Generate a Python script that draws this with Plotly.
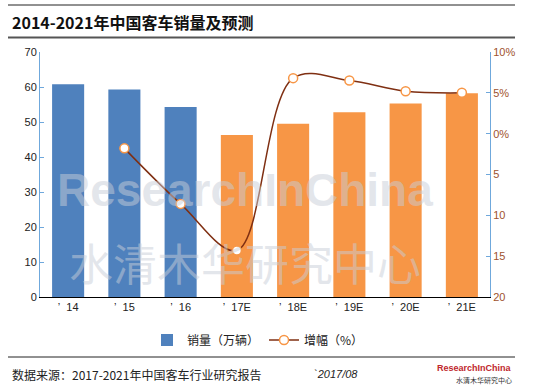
import plotly.graph_objects as go

categories = ["’\u00a0 14", "’\u00a0 15", "’\u00a0 16", "’\u00a0 17E", "’\u00a0 18E", "’\u00a0 19E", "’\u00a0 20E", "’\u00a0 21E"]
sales = [60.8, 59.3, 54.3, 46.3, 49.5, 52.8, 55.3, 58.2]
growth_cats = categories[1:]
growth = [-1.8, -8.6, -14.3, 6.8, 6.5, 5.2, 5.0]
bar_colors = ["#4F81BD"] * 3 + ["#F79646"] * 5
right_vals = [10, 5, 0, -5, -10, -15, -20]
right_text = ["10%", "5%", "0%", "5", "10", "15", "20"]

CJK = "Noto Sans CJK SC"
LAT = "Liberation Sans, Arial, sans-serif"

fig = go.Figure()
fig.add_trace(go.Bar(
    x=categories, y=sales, name="销量（万辆）",
    marker=dict(color=bar_colors, line=dict(width=0)),
))
fig.add_trace(go.Scatter(
    x=growth_cats, y=growth, name="增幅（%）", yaxis="y2",
    mode="lines+markers",
    line=dict(color="#7F2F12", width=1.5, shape="spline", smoothing=1.0),
    marker=dict(size=9, color="white", line=dict(color="#F79646", width=1.5)),
))

# paper coordinate helpers (plot area: x 40..490 px, y 52..297 px)
def px_x(p):
    return (p - 40) / 450.0

def px_y(p):
    return (297 - p) / 245.0

shapes = [
    dict(type="line", xref="paper", yref="paper", x0=px_x(8), x1=px_x(515),
         y0=px_y(5), y1=px_y(5), line=dict(color="#222222", width=1)),
    dict(type="line", xref="paper", yref="paper", x0=px_x(8), x1=px_x(515),
         y0=px_y(37.5), y1=px_y(37.5), line=dict(color="#555555", width=2)),
    dict(type="line", xref="paper", yref="paper", x0=px_x(8), x1=px_x(515),
         y0=px_y(357), y1=px_y(357), line=dict(color="#222222", width=1)),
]

WM = "rgba(200,205,215,0.5)"
annotations = [
    dict(text="<b>2014-2021年中国客车销量及预测</b>", xref="paper", yref="paper",
         x=px_x(10), y=px_y(22), xanchor="left", yanchor="middle", showarrow=False,
         font=dict(family=CJK, size=16, color="#111111")),
    dict(text="数据来源：2017-2021年中国客车行业研究报告", xref="paper", yref="paper",
         x=px_x(10), y=px_y(374), xanchor="left", yanchor="middle", showarrow=False,
         font=dict(family=CJK, size=12, color="#222222")),
    dict(text="<i>`2017/08</i>", xref="paper", yref="paper",
         x=px_x(312), y=px_y(374), xanchor="left", yanchor="middle", showarrow=False,
         font=dict(family=LAT, size=11, color="#222222")),
    dict(text="<b>ResearchInChina</b>", xref="paper", yref="paper",
         x=px_x(514), y=px_y(368), xanchor="right", yanchor="middle", showarrow=False,
         font=dict(family=LAT, size=9, color="#C0272D")),
    dict(text="水清木华研究中心", xref="paper", yref="paper",
         x=px_x(514), y=px_y(380), xanchor="right", yanchor="middle", showarrow=False,
         font=dict(family=CJK, size=7, color="#333333")),
    # watermark
    dict(text="<b>ResearchInChina</b>", xref="paper", yref="paper",
         x=px_x(245), y=px_y(190), xanchor="center", yanchor="middle", showarrow=False,
         font=dict(family=LAT, size=46, color=WM)),
    dict(text="水清木华研究中心", xref="paper", yref="paper",
         x=px_x(245), y=px_y(262), xanchor="center", yanchor="middle", showarrow=False,
         font=dict(family=CJK, size=44, color=WM)),
]

fig.update_layout(
    width=534, height=391,
    margin=dict(l=40, r=44, t=52, b=94),
    paper_bgcolor="white", plot_bgcolor="white",
    showlegend=True,
    legend=dict(orientation="h", x=px_x(258), y=px_y(340), xanchor="center", yanchor="middle",
                font=dict(family=CJK, size=12, color="#222222"), bgcolor="rgba(0,0,0,0)"),
    bargap=0.43,
    xaxis=dict(type="category", showgrid=False, showline=True, linecolor="#000000", linewidth=1,
               ticks="", tickfont=dict(family=LAT, size=11, color="#222222"), fixedrange=True),
    yaxis=dict(range=[0, 70], dtick=10, showgrid=False, zeroline=False, showline=True,
               linecolor="#6FA8DC", linewidth=1, ticks="inside", ticklen=4, tickcolor="#6FA8DC",
               tickfont=dict(family=LAT, size=11, color="#222222")),
    yaxis2=dict(range=[-20, 10], overlaying="y", side="right", tickvals=right_vals, ticktext=right_text,
                showgrid=False, zeroline=False, showline=True, linecolor="#6FA8DC", linewidth=1,
                ticks="inside", ticklen=4, tickcolor="#6FA8DC",
                tickfont=dict(family=LAT, size=11, color="#A0522D")),
    shapes=shapes, annotations=annotations,
)

fig.write_html("out.html", config={"displayModeBar": False},
               post_script="document.body.style.margin='0';")
